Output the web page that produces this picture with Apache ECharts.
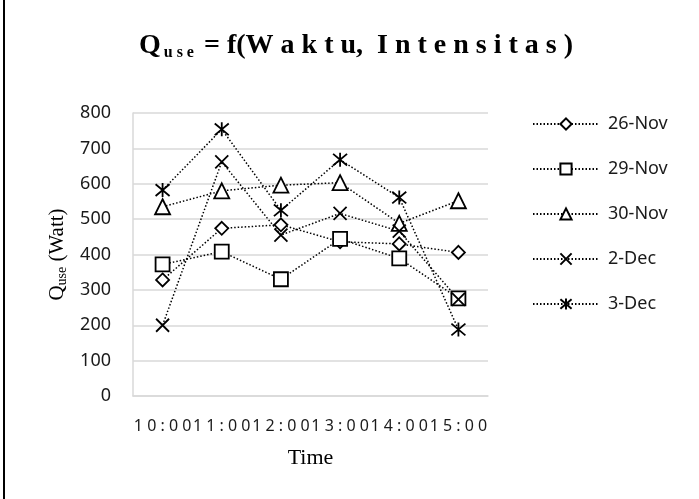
<!DOCTYPE html>
<html><head><meta charset="utf-8">
<script src="https://cdn.jsdelivr.net/npm/echarts@6/dist/echarts.min.js"></script>
<style>html,body{margin:0;padding:0;background:#fff}#c{width:699px;height:499px}</style>
</head><body><div id="c"></div>
<script>
const categories = ['10:00','11:00','12:00','13:00','14:00','15:00'];
const nov26 = [328, 474, 484, 436, 430, 406];
const nov29 = [372, 408, 330, 444, 389, 276];
const nov30 = [535, 580, 596, 603, 488, 552];
const dec2  = [200, 662, 455, 516, 466, 273];
const dec3  = [582, 754, 525, 668, 561, 188];
const seriesNames = ['26-Nov','29-Nov','30-Nov','2-Dec','3-Dec'];
const yTicks = [0,100,200,300,400,500,600,700,800];

const XPATH = 'path://M0,0L10,10M10,0L0,10';
const STAR = 'path://M0,0L10,10M10,0L0,10M5,-1L5,11';
const sans = 'Noto Sans';
const serif = 'Liberation Serif';

function mk(name, data, symbol, size, fill) {
  return {
    name, type: 'line', data, symbol, symbolSize: size,
    lineStyle: {color: '#000', width: 1.5, type: [1.5, 2]},
    itemStyle: {color: fill, borderColor: '#000', borderWidth: 1.8},
    emphasis: {disabled: true}
  };
}

const chart = echarts.init(document.getElementById('c'));
chart.setOption({
  animation: false,
  backgroundColor: '#fff',
  title: {
    text: '{q|Q}{s|u s e}{t| = f(W a k t u,  I n t e n s i t a s )}',
    left: 351, top: 25, textAlign: 'center',
    textStyle: {
      rich: {
        q: {fontFamily: serif, fontWeight: 'bold', fontSize: 28, color: '#000'},
        s: {fontFamily: serif, fontWeight: 'bold', fontSize: 16, color: '#000', padding: [15,3,0,3]},
        t: {fontFamily: serif, fontWeight: 'bold', fontSize: 28, color: '#000'}
      }
    }
  },
  legend: {
    orient: 'vertical', left: 532, top: 115, padding: 0,
    itemWidth: 66, itemHeight: 14, itemGap: 27,
    data: seriesNames,
    textStyle: {fontFamily: sans, fontSize: 18, color: '#1a1a1a', padding: [0,0,0,4]}
  },
  grid: {left: 133, right: 211, top: 113, bottom: 103},
  xAxis: {
    type: 'category', data: categories, boundaryGap: true,
    axisLine: {lineStyle: {color: '#d9d9d9', width: 1.5}},
    axisTick: {show: false},
    axisLabel: {interval: 0, margin: 22, fontFamily: sans, fontSize: 16, color: '#1a1a1a',
      formatter: v => v.split('').join(' ')},
    name: 'Time', nameLocation: 'middle', nameGap: 51,
    nameTextStyle: {fontFamily: serif, fontSize: 22, color: '#000'}
  },
  yAxis: {
    type: 'value', min: yTicks[0], max: yTicks[yTicks.length-1], interval: 100,
    axisLine: {show: true, lineStyle: {color: '#d9d9d9', width: 1.5}},
    axisTick: {show: false},
    splitLine: {lineStyle: {color: '#d9d9d9', width: 1.5}},
    axisLabel: {margin: 22, fontFamily: sans, fontSize: 18, color: '#1a1a1a'},
    name: '{n|Q}{s|use}{n| (Watt)}', nameLocation: 'middle', nameGap: 62, nameRotate: 90,
    nameTextStyle: {rich: {
      n: {fontFamily: serif, fontSize: 21, color: '#000'},
      s: {fontFamily: serif, fontSize: 14, color: '#000', padding: [9,0,0,0]}
    }}
  },
  graphic: [{type: 'rect', shape: {x: 3, y: 0, width: 2, height: 499}, style: {fill: '#000'}}],
  series: [
    mk(seriesNames[0], nov26, 'diamond', 13, '#fff'),
    mk(seriesNames[1], nov29, 'rect', 14, '#fff'),
    mk(seriesNames[2], nov30, 'triangle', 15, '#fff'),
    mk(seriesNames[3], dec2, XPATH, 13, 'none'),
    mk(seriesNames[4], dec3, STAR, 14, 'none')
  ]
});
</script></body></html>
